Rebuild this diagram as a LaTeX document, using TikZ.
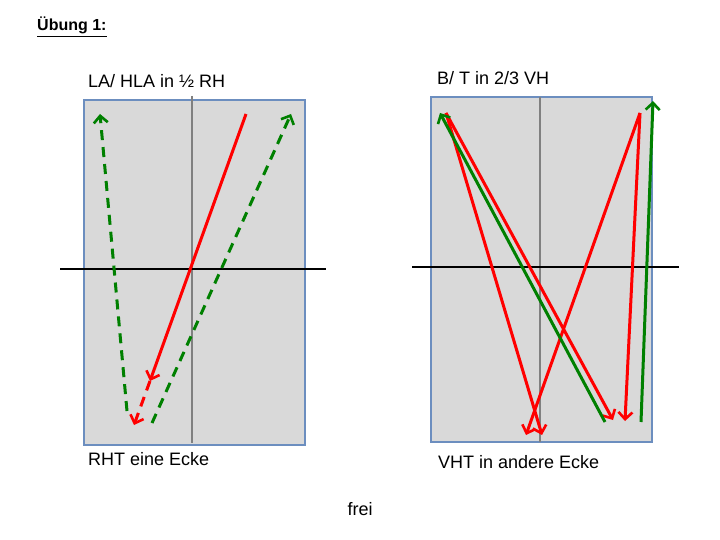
\documentclass[tikz,border=0pt]{standalone}
\usepackage{fontspec}
\setmainfont{Liberation Sans}
\usetikzlibrary{arrows.meta}

\definecolor{boxfill}{RGB}{217,217,217}
\definecolor{boxline}{RGB}{108,142,191}
\definecolor{dkgreen}{RGB}{0,128,0}

\tikzset{
  panel/.style={fill=boxfill,draw=boxline,line width=1.5pt},
  midline/.style={draw=black!50,line width=2pt},
  axis/.style={draw=black,line width=1.8pt},
  mv/.style={line width=3pt,-{Straight Barb[length=7pt,width=14pt,line width=2.6pt]}},
  gap/.style={dash pattern=on 10pt off 7pt},
  lbl/.style={anchor=base west,font=\fontsize{18}{20}\selectfont,inner sep=0pt}
}

\begin{document}
\begin{tikzpicture}[x=1pt,y=-1pt]
  \useasboundingbox (0,0) rectangle (720,540);

  % title
  \node[anchor=base west,inner sep=0pt,font=\fontsize{16}{18}\selectfont\bfseries] (title) at (37,31) {\underline{Übung 1:}};

  % left panel
  \draw[panel] (84,100) rectangle (305,445);
  \draw[midline] (192,96) -- (192,443);
  \draw[axis] (60,269) -- (326,269);
  \node[lbl] (lhead) at (88,88) {LA/ HLA in ½ RH};
  \node[lbl] (lfoot) at (88,465) {RHT eine Ecke};

  \coordinate (ra) at (246,114);
  \coordinate (rb) at (150,381);
  \coordinate (rc) at (134,425);
  \coordinate (ga) at (127,411);
  \coordinate (gb) at (100,114);
  \coordinate (gc) at (152,423);
  \coordinate (gd) at (291,114);
  \draw[mv,red] (ra) -- (rb);
  \draw[mv,red,gap] (rb) -- (rc);
  \draw[mv,dkgreen,gap] (ga) -- (gb);
  \draw[mv,dkgreen,gap] (gc) -- (gd);

  % right panel
  \draw[panel] (431,97) rectangle (652,442);
  \draw[midline] (540,97) -- (540,442);
  \draw[axis] (412,267) -- (679,267);
  \node[lbl] (rhead) at (437,85) {B/ T in 2/3 VH};
  \node[lbl] (rfoot) at (438,468) {VHT in andere Ecke};

  \coordinate (tl) at (446,113);
  \coordinate (tr) at (640,113);
  \foreach \a/\b in {tr/{526,435}, tl/{542,435}, tl/{613,420}, tr/{625,421}} {
    \draw[mv,red] (\a) -- (\b);
  }
  \coordinate (g1) at (605,422);
  \coordinate (g2) at (440,113);
  \coordinate (g3) at (641,422);
  \coordinate (g4) at (653,101);
  \draw[mv,dkgreen] (g1) -- (g2);
  \draw[mv,dkgreen] (g3) -- (g4);

  \node[anchor=base,inner sep=0pt,font=\fontsize{18}{20}\selectfont] (frei) at (360,515) {frei};
\end{tikzpicture}
\end{document}
